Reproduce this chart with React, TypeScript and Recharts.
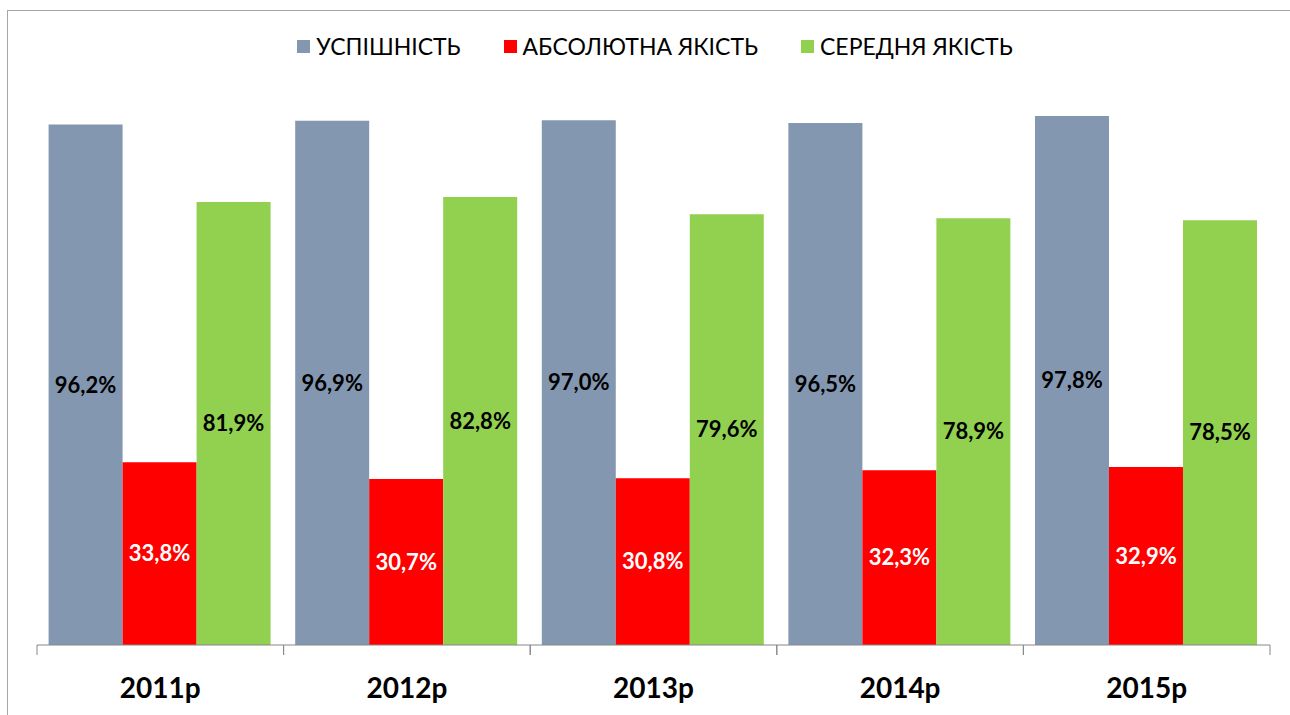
import { BarChart, Bar, XAxis, YAxis, Legend, LabelList } from 'recharts';

const years = ['2011р', '2012р', '2013р', '2014р', '2015р'];
const uspishnist = [96.2, 96.9, 97.0, 96.5, 97.8];
const absolutna = [33.8, 30.7, 30.8, 32.3, 32.9];
const serednia = [81.9, 82.8, 79.6, 78.9, 78.5];

const series = [
  { key: 'u', name: 'УСПІШНІСТЬ', color: '#8497B0', label: '#000' },
  { key: 'a', name: 'АБСОЛЮТНА ЯКІСТЬ', color: '#FF0000', label: '#fff' },
  { key: 's', name: 'СЕРЕДНЯ ЯКІСТЬ', color: '#92D050', label: '#000' },
];

const data = years.map((year, i) => ({
  year,
  u: uspishnist[i],
  a: absolutna[i],
  s: serednia[i],
}));

const W = 1290;
const H = 715;
const margin = { top: 104, right: 20, bottom: 0, left: 37 };
const band = (W - margin.left - margin.right) / years.length;
const font = 'Lato, "Open Sans", sans-serif';

const fmt = (v: any) => Number(v).toFixed(1).replace('.', ',') + '%';

function YearTick(props: any) {
  const { x, y, payload } = props;
  return (
    <g>
      <line x1={x - band / 2} y1={y - 8} x2={x - band / 2} y2={y + 2} stroke="#878787" />
      <line x1={x + band / 2} y1={y - 8} x2={x + band / 2} y2={y + 2} stroke="#878787" />
      <text x={x} y={y + 45} textAnchor="middle" fontFamily={font} fontWeight={700} fontSize={28} fill="#000">
        {payload.value}
      </text>
    </g>
  );
}

function TopLegend() {
  return (
    <div style={{ display: 'flex', justifyContent: 'center', gap: 43, fontFamily: font, fontSize: 23 }}>
      {series.map((s) => (
        <div key={s.key} style={{ display: 'flex', alignItems: 'center', gap: 6 }}>
          <span style={{ width: 13, height: 13, background: s.color, display: 'inline-block' }} />
          <span>{s.name}</span>
        </div>
      ))}
    </div>
  );
}

export default function App() {
  return (
    <div style={{ position: 'absolute', left: 0, top: 0, width: W, height: H, overflow: 'hidden', background: '#fff' }}>
      <div
        style={{
          position: 'absolute',
          left: 7,
          top: 10,
          width: 1320,
          height: 740,
          border: '1.5px solid #a6a6a6',
        }}
      />
      <BarChart width={W} height={H} data={data} margin={margin} barGap={0} barCategoryGap="4.7%">
        <XAxis
          dataKey="year"
          axisLine={{ stroke: '#878787' }}
          tickLine={false}
          tick={<YearTick />}
          height={70}
          interval={0}
        />
        <YAxis hide domain={[0, 100]} />
        <Legend
          verticalAlign="middle"
          content={<TopLegend />}
          wrapperStyle={{ top: 32, left: 10, width: W, height: 32 }}
        />
        {series.map((s) => (
          <Bar key={s.key} dataKey={s.key} name={s.name} fill={s.color} isAnimationActive={false}>
            <LabelList
              dataKey={s.key}
              position="center"
              formatter={fmt}
              fill={s.label}
              fontFamily={font}
              fontWeight={700}
              fontSize={22}
            />
          </Bar>
        ))}
      </BarChart>
    </div>
  );
}
